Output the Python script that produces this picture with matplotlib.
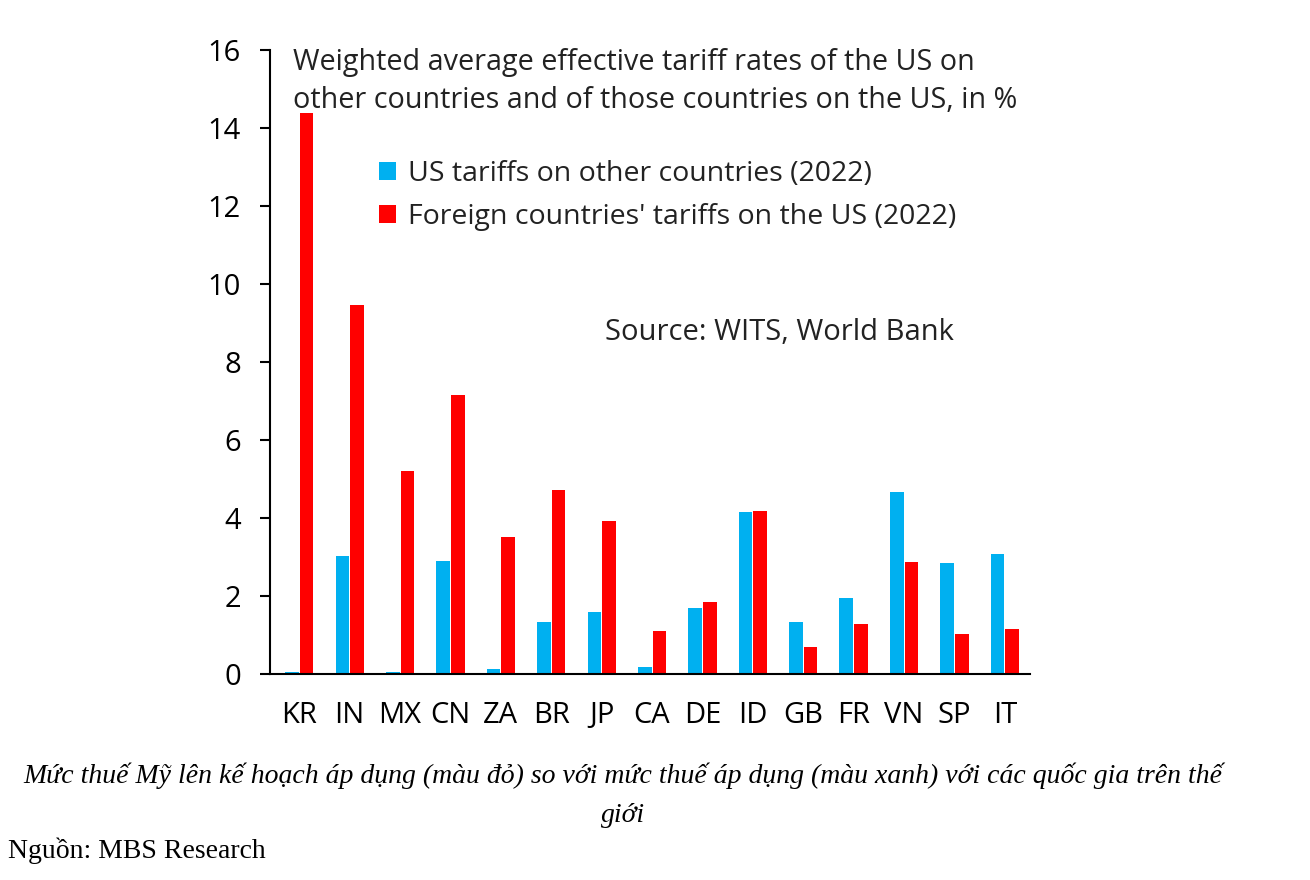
import numpy as np
import matplotlib.pyplot as plt

countries = ['KR', 'IN', 'MX', 'CN', 'ZA', 'BR', 'JP', 'CA', 'DE', 'ID', 'GB', 'FR', 'VN', 'SP', 'IT']
us_tariffs = [0.05, 3.02, 0.05, 2.89, 0.12, 1.32, 1.58, 0.17, 1.68, 4.14, 1.32, 1.94, 4.66, 2.84, 3.07]
foreign_tariffs = [14.38, 9.46, 5.2, 7.15, 3.5, 4.71, 3.91, 1.09, 1.83, 4.17, 0.68, 1.27, 2.86, 1.01, 1.14]

blue = '#00B0F0'
red = '#FF0000'
chart_font = ['Open Sans', 'DejaVu Sans']
fs = 21

fig = plt.figure(figsize=(13.1, 8.8), dpi=100)
ax = fig.add_axes([270/1310, 1 - 673.5/880, 760/1310, 623.5/880])

x = np.arange(len(countries))
w = 0.27
ax.bar(x - w/2 - 0.01, us_tariffs, w, color=blue, label='US tariffs on other countries (2022)')
ax.bar(x + w/2 + 0.01, foreign_tariffs, w, color=red, label="Foreign countries' tariffs on the US (2022)")

ax.set_xlim(-0.58, 14.5)
ax.set_ylim(0, 16)
ax.set_yticks(range(0, 17, 2))
ax.set_xticks(x)
ax.set_xticklabels(countries, fontfamily=chart_font, fontsize=fs)
for lab in ax.get_yticklabels():
    lab.set_fontfamily(chart_font)
    lab.set_fontsize(fs)
ax.tick_params(axis='x', length=0, pad=20)
ax.tick_params(axis='y', length=7, width=1.5, pad=14)
for s in ['top', 'right']:
    ax.spines[s].set_visible(False)
ax.spines['left'].set_linewidth(1.5)
ax.spines['bottom'].set_linewidth(1.5)

fig.text(293/1310, 1 - 48/880, 'Weighted average effective tariff rates of the US on\n'
         'other countries and of those countries on the US, in %',
         ha='left', va='top', fontsize=20.7, fontfamily=chart_font,
         linespacing=1.42, color='#222222')

leg = ax.legend(loc='upper left', bbox_to_anchor=(368/1310, 1 - 149/880),
                bbox_transform=fig.transFigure, frameon=False,
                prop={'family': chart_font, 'size': 20.5},
                handlelength=0.6, handleheight=0.6, handletextpad=0.4,
                labelspacing=0.5, borderaxespad=0)
for t in leg.get_texts():
    t.set_color('#222222')

fig.text(605/1310, 1 - 333/880, 'Source: WITS, World Bank',
         ha='left', va='center', fontsize=fs, fontfamily=chart_font, color='#222222')

fig.text(623/1310, 1 - 776/880,
         'Mức thuế Mỹ lên kế hoạch áp dụng (màu đỏ) so với mức thuế áp dụng (màu xanh) với các quốc gia trên thế',
         ha='center', va='center', fontsize=20, fontfamily='Liberation Serif', style='italic')
fig.text(623/1310, 1 - 815/880, 'giới', ha='center', va='center', fontsize=20,
         fontfamily='Liberation Serif', style='italic')
fig.text(8/1310, 1 - 851/880, 'Nguồn: MBS Research', ha='left', va='center', fontsize=20,
         fontfamily='Liberation Serif')

fig.savefig('out.png', dpi=100)
